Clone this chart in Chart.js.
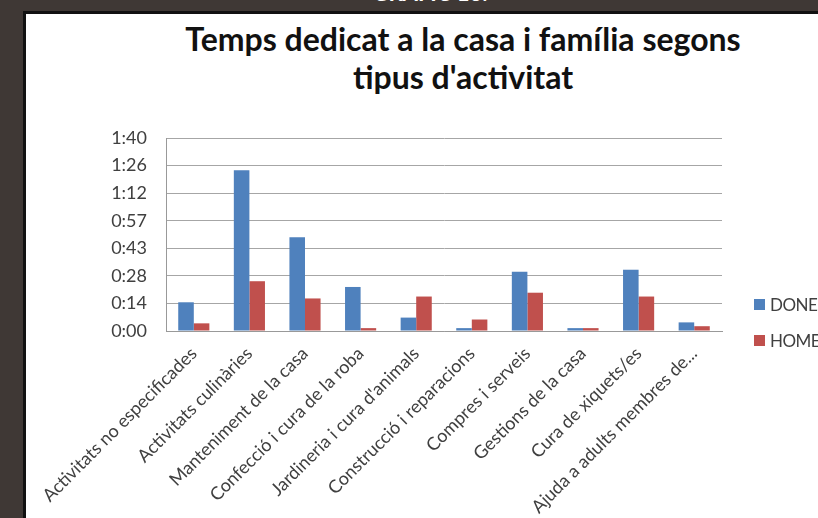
<!DOCTYPE html>
<html lang="ca">
<head>
  <meta charset="UTF-8">
  <title>Temps dedicat a la casa i família</title>
  <script src="https://cdn.jsdelivr.net/npm/chart.js"></script>
  <style>
    body {
      margin: 0;
      width: 818px;
      height: 518px;
      overflow: hidden;
      background-color: #3f3835;
      font-family: 'Lato', sans-serif;
      position: relative;
    }

    /* caption above the panel, mostly cut off */
    .caption {
      position: absolute;
      top: -21px;
      left: 0;
      width: 860px;
      text-align: center;
      color: #fff;
      font-weight: bold;
      font-size: 22px;
    }

    .panel {
      position: absolute;
      left: 23px;
      top: 11px;
      width: 900px;
      height: 600px;
      background: #fff;
      border-left: 3px solid #111;
      border-top: 3px solid #111;
    }

    .title {
      position: absolute;
      left: 26px;
      top: 20px;
      width: 874px;
      text-align: center;
      font-size: 32px;
      font-weight: bold;
      line-height: 38px;
      color: #111;
    }

    .chart-box {
      position: absolute;
      left: 26px;
      top: 14px;
      width: 740px;
      height: 504px;
    }

    .legend {
      position: absolute;
      left: 754px;
      top: 286px;
      font-size: 17px;
      color: #404040;
      letter-spacing: -0.5px;
    }

    .legend div {
      height: 36px;
      display: flex;
      align-items: center;
      white-space: nowrap;
    }

    .legend span {
      display: inline-block;
      width: 11px;
      height: 11px;
      margin-right: 5px;
    }
  </style>
</head>
<body>
  <div class="caption">GRÀFIC 13.</div>
  <div class="panel"></div>
  <div class="title">Temps dedicat a la casa i família segons<br>tipus d'activitat</div>

  <div class="chart-box">
    <canvas id="chart"></canvas>
  </div>
  <div class="legend" id="legend"></div>

  <script>
    // categories
    const activitats = [
      'Activitats no especificades',
      'Activitats culinàries',
      'Manteniment de la casa',
      'Confecció i cura de la roba',
      'Jardineria i cura d\'animals',
      'Construcció i reparacions',
      'Compres i serveis',
      'Gestions de la casa',
      'Cura de xiquets/es',
      'Ajuda a adults membres de...'
    ];

    // minutes per day
    const dones = [15, 84, 49, 23, 7, 1.5, 31, 1.5, 32, 4.5];
    const homes = [4, 26, 17, 1.5, 18, 6, 20, 1.5, 18, 2.5];

    const seriesNames = ['DONES', 'HOMES'];
    const seriesColors = ['#4f81bd', '#c0504d'];

    // Excel axis: steps of 0:14:24
    const yTickLabels = ['0:00', '0:14', '0:28', '0:43', '0:57', '1:12', '1:26', '1:40'];
    const yStep = 14.4;

    const tickFont = { family: 'Lato', size: 18 };

    new Chart(document.getElementById('chart'), {
      type: 'bar',
      data: {
        labels: activitats,
        datasets: [
          { label: seriesNames[0], data: dones, backgroundColor: seriesColors[0] },
          { label: seriesNames[1], data: homes, backgroundColor: seriesColors[1] }
        ]
      },
      options: {
        responsive: true,
        maintainAspectRatio: false,
        animation: false,
        categoryPercentage: 0.56,
        barPercentage: 1,
        layout: { padding: { top: 124, right: 44, left: 0, bottom: 0 } },
        plugins: {
          legend: { display: false },
          tooltip: { enabled: false }
        },
        scales: {
          x: {
            grid: { display: false },
            border: { color: '#999' },
            ticks: {
              autoSkip: false,
              minRotation: 45,
              maxRotation: 45,
              color: '#404040',
              font: tickFont,
              padding: 4
            },
            afterFit(scale) { scale.height = 187; }
          },
          y: {
            min: 0,
            max: yStep * 7,
            grid: { color: '#a6a6a6', drawTicks: false },
            border: { color: '#999' },
            ticks: {
              stepSize: yStep,
              color: '#404040',
              font: tickFont,
              padding: 19,
              callback: (v, i) => yTickLabels[i]
            },
            afterFit(scale) { scale.width = 140; }
          }
        }
      }
    });

    // legend on the right, cut by the frame like the original
    const legend = document.getElementById('legend');
    seriesNames.forEach((name, i) => {
      const row = document.createElement('div');
      row.innerHTML = '<span style="background:' + seriesColors[i] + '"></span>' + name;
      legend.appendChild(row);
    });
  </script>
</body>
</html>
